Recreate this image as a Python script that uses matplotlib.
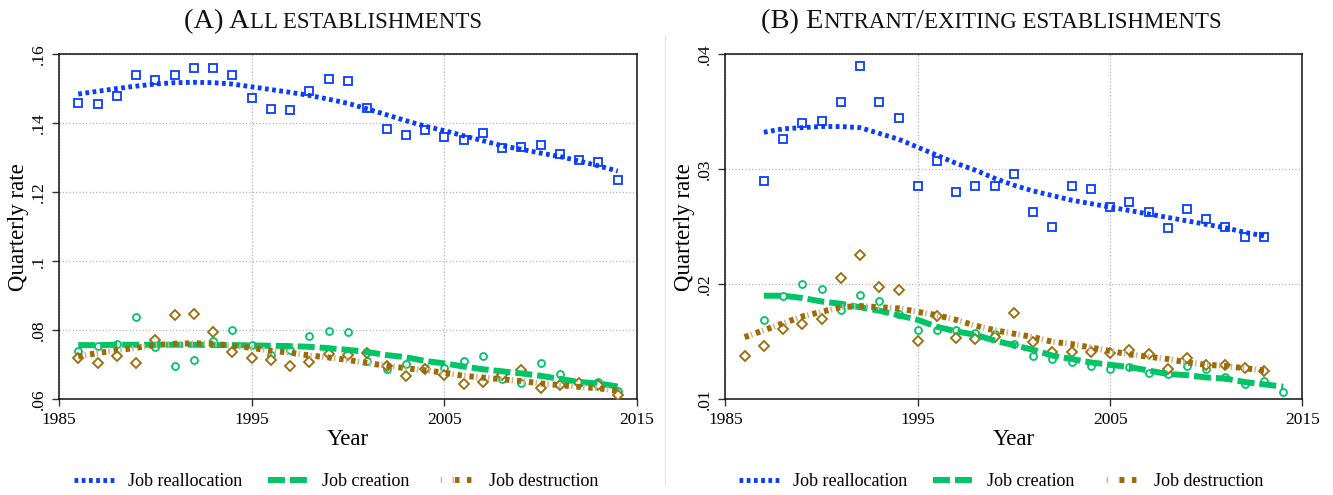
import matplotlib
matplotlib.use('Agg')
import matplotlib.pyplot as plt
from matplotlib.lines import Line2D
from matplotlib.legend_handler import HandlerTuple

plt.rcParams['font.family'] = ['Liberation Serif', 'DejaVu Serif']
plt.rcParams['lines.scale_dashes'] = False

BLUE = '#0a3cff'
GREEN = '#00c466'
BROWN = '#9c6a08'
TAN = '#cdb58a'
GRID = '#b4b4b4'

# (A) all establishments
years_a = list(range(1986, 2015))
realloc_a = [0.1458, 0.1456, 0.1479, 0.1539, 0.1524, 0.1539, 0.1559, 0.1559, 0.1538, 0.1472,
             0.1440, 0.1437, 0.1492, 0.1527, 0.1522, 0.1444, 0.1383, 0.1366, 0.1381, 0.1360,
             0.1352, 0.1371, 0.1327, 0.1331, 0.1336, 0.1311, 0.1293, 0.1288, 0.1236]
realloc_fit_a = [0.1484, 0.1492, 0.1500, 0.1507, 0.1513, 0.1517, 0.1518, 0.1517, 0.1513, 0.1505,
                 0.1497, 0.1489, 0.1480, 0.1469, 0.1457, 0.1441, 0.1424, 0.1407, 0.1391, 0.1378,
                 0.1363, 0.1349, 0.1334, 0.1324, 0.1313, 0.1303, 0.1290, 0.1276, 0.1261]
creation_a = [0.0739, 0.0754, 0.0760, 0.0837, 0.0752, 0.0697, 0.0715, 0.0768, 0.0802, 0.0757,
              0.0728, 0.0743, 0.0784, 0.0797, 0.0795, 0.0711, 0.0687, 0.0701, 0.0691, 0.0691,
              0.0710, 0.0724, 0.0658, 0.0648, 0.0706, 0.0672, 0.0648, 0.0649, 0.0625]
creation_fit_a = [0.0757, 0.0757, 0.0758, 0.0758, 0.0758, 0.0758, 0.0758, 0.0757, 0.0757, 0.0756,
                  0.0755, 0.0754, 0.0752, 0.0748, 0.0743, 0.0737, 0.0728, 0.0722, 0.0711, 0.0704,
                  0.0695, 0.0687, 0.0681, 0.0675, 0.0668, 0.0659, 0.0650, 0.0646, 0.0637]
destruction_a = [0.0721, 0.0704, 0.0724, 0.0704, 0.0773, 0.0844, 0.0846, 0.0795, 0.0738, 0.0720,
                 0.0715, 0.0696, 0.0709, 0.0732, 0.0728, 0.0735, 0.0697, 0.0668, 0.0689, 0.0670,
                 0.0645, 0.0649, 0.0670, 0.0685, 0.0632, 0.0641, 0.0648, 0.0641, 0.0613]
destruction_fit_a = [0.0724, 0.0734, 0.0742, 0.0749, 0.0757, 0.0761, 0.0762, 0.0761, 0.0755, 0.0749,
                     0.0741, 0.0735, 0.0727, 0.0721, 0.0714, 0.0705, 0.0697, 0.0690, 0.0684, 0.0677,
                     0.0668, 0.0663, 0.0658, 0.0653, 0.0646, 0.0641, 0.0636, 0.0632, 0.0625]
yticks_a = [0.06, 0.08, 0.10, 0.12, 0.14, 0.16]
ylabels_a = ['.06', '.08', '.1', '.12', '.14', '.16']

# (B) entrant / exiting establishments
years_realloc_b = list(range(1987, 2014))
realloc_b = [0.0290, 0.0326, 0.0340, 0.0342, 0.0358, 0.0390, 0.0358, 0.0344, 0.0285, 0.0307,
             0.0280, 0.0285, 0.0285, 0.0296, 0.0263, 0.0250, 0.0285, 0.0283, 0.0267, 0.0271,
             0.0263, 0.0249, 0.0265, 0.0257, 0.0250, 0.0241, 0.0241]
realloc_fit_b = [0.0332, 0.0335, 0.0336, 0.0337, 0.0337, 0.0336, 0.0331, 0.0326, 0.0319, 0.0312,
                 0.0305, 0.0299, 0.0292, 0.0286, 0.0281, 0.0277, 0.0273, 0.0270, 0.0267, 0.0264,
                 0.0261, 0.0258, 0.0255, 0.0252, 0.0249, 0.0245, 0.0242]
years_creation_b = list(range(1987, 2015))
creation_b = [0.0169, 0.0190, 0.0200, 0.0196, 0.0178, 0.0191, 0.0185, 0.0174, 0.0160, 0.0160,
              0.0160, 0.0158, 0.0157, 0.0148, 0.0138, 0.0135, 0.0132, 0.0129, 0.0126, 0.0128,
              0.0123, 0.0122, 0.0129, 0.0126, 0.0119, 0.0113, 0.0116, 0.0106]
creation_fit_b = [0.0190, 0.0190, 0.0188, 0.0185, 0.0183, 0.0180, 0.0177, 0.0173, 0.0169, 0.0163,
                  0.0159, 0.0156, 0.0151, 0.0147, 0.0143, 0.0138, 0.0135, 0.0132, 0.0130, 0.0128,
                  0.0125, 0.0122, 0.0121, 0.0119, 0.0118, 0.0115, 0.0113, 0.0111]
years_destruction_b = list(range(1986, 2014))
destruction_b = [0.0138, 0.0146, 0.0161, 0.0165, 0.0170, 0.0205, 0.0225, 0.0198, 0.0195, 0.0151,
                 0.0172, 0.0153, 0.0152, 0.0154, 0.0175, 0.0150, 0.0141, 0.0141, 0.0141, 0.0140,
                 0.0143, 0.0139, 0.0126, 0.0136, 0.0130, 0.0130, 0.0127, 0.0125]
destruction_fit_b = [0.0154, 0.0160, 0.0166, 0.0172, 0.0176, 0.0180, 0.0181, 0.0180, 0.0179, 0.0176,
                     0.0173, 0.0169, 0.0164, 0.0160, 0.0157, 0.0154, 0.0150, 0.0148, 0.0145, 0.0142,
                     0.0139, 0.0137, 0.0135, 0.0132, 0.0130, 0.0129, 0.0127, 0.0125]
yticks_b = [0.01, 0.02, 0.03, 0.04]
ylabels_b = ['.01', '.02', '.03', '.04']

xticks = [1985, 1995, 2005, 2015]

REALLOC_STYLE = dict(color=BLUE, lw=3.5, dashes=(2.7, 2.5))
CREATION_STYLE = dict(color=GREEN, lw=4.3, dashes=(12.2, 3.6))
DESTR_STYLE = dict(color=BROWN, lw=4.3, dashes=(3.2, 5.4))
DESTR_TICK_STYLE = dict(color=TAN, lw=4.3, linestyle=(-4.8, (1.1, 7.5)))


def smallcaps(fig, xc, y, pieces):
    r = fig.canvas.get_renderer()
    texts = [fig.text(0, y, s, fontsize=fs, va='baseline', ha='left', color='#111111')
             for s, fs in pieces]
    widths = [t.get_window_extent(r).width for t in texts]
    x = xc * fig.bbox.width - sum(widths) / 2
    for t, w in zip(texts, widths):
        t.set_x(x / fig.bbox.width)
        x += w


def panel(ax, ylim, yticks, ylabels, data):
    (x_r, r_pts, r_fit), (x_c, c_pts, c_fit), (x_d, d_pts, d_fit) = data
    ax.plot(x_r, r_pts, 's', ms=5.6, mfc='white', mec=BLUE, mew=1.3, zorder=3)
    ax.plot(x_c, c_pts, 'o', ms=5.0, mfc='white', mec=GREEN, mew=1.3, zorder=3)
    ax.plot(x_d, d_pts, 'D', ms=4.8, mfc='white', mec=BROWN, mew=1.3, zorder=3)
    ax.plot(x_r, r_fit, zorder=4, **REALLOC_STYLE)
    ax.plot(x_c, c_fit, zorder=4, **CREATION_STYLE)
    # job destruction: brown dashes with light ticks in between
    ax.plot(x_d, d_fit, zorder=4, **DESTR_TICK_STYLE)
    ax.plot(x_d, d_fit, zorder=4, **DESTR_STYLE)

    ax.set_xlim(1985, 2015)
    ax.set_ylim(*ylim)
    ax.set_xticks(xticks)
    ax.set_xticklabels([str(t) for t in xticks], fontsize=12.5)
    ax.set_yticks(yticks)
    ax.set_yticklabels(ylabels, rotation=90, va='center', fontsize=12.5)
    ax.tick_params(direction='out', length=5, width=1, color='#333333', pad=4)
    ax.grid(True, color=GRID, lw=1.0, linestyle=(0, (0.8, 1.6)))
    ax.set_axisbelow(True)
    for sp in ax.spines.values():
        sp.set_linewidth(1.1)
        sp.set_color('#111111')
    ax.set_xlabel('Year', fontsize=16.5)
    ax.set_ylabel('Quarterly rate', fontsize=16.5)
    ax.xaxis.set_label_coords(0.5, -0.085)
    ax.yaxis.set_label_coords(-0.052, 0.5)

    handles = [Line2D([], [], **REALLOC_STYLE),
               Line2D([], [], **CREATION_STYLE),
               (Line2D([], [], **DESTR_TICK_STYLE), Line2D([], [], **DESTR_STYLE))]
    return handles


fig = plt.figure(figsize=(13.33, 4.95), dpi=100)
ax_a = fig.add_axes([59 / 1333, 1 - 399.3 / 495, 578 / 1333, 345.3 / 495])
ax_b = fig.add_axes([725.4 / 1333, 1 - 399.3 / 495, 577 / 1333, 345.3 / 495])

labels = ['Job reallocation', 'Job creation', 'Job destruction']

h_a = panel(ax_a, (0.06, 0.16), yticks_a, ylabels_a,
            [(years_a, realloc_a, realloc_fit_a),
             (years_a, creation_a, creation_fit_a),
             (years_a, destruction_a, destruction_fit_a)])
h_b = panel(ax_b, (0.01, 0.04), yticks_b, ylabels_b,
            [(years_realloc_b, realloc_b, realloc_fit_b),
             (years_creation_b, creation_b, creation_fit_b),
             (years_destruction_b, destruction_b, destruction_fit_b)])

for ax, h, xc in [(ax_a, h_a, 0.252), (ax_b, h_b, 0.751)]:
    ax.legend(h, labels, loc='center', bbox_to_anchor=(xc, 1 - 482 / 495),
              bbox_transform=fig.transFigure, ncol=3, frameon=False, fontsize=13,
              handlelength=2.3, handletextpad=0.7, columnspacing=1.4,
              handler_map={tuple: HandlerTuple(ndivide=None, pad=0)})

# thin divider between the two panels
fig.add_artist(Line2D([665 / 1333, 665 / 1333], [0.02, 0.93], transform=fig.transFigure,
                      color='#e4e4e4', lw=0.8))

smallcaps(fig, 333 / 1333, 1 - 28 / 495, [('(A) A', 20.5), ('LL ESTABLISHMENTS', 16.5)])
smallcaps(fig, 991 / 1333, 1 - 28 / 495, [('(B) E', 20.5), ('NTRANT', 16.5), ('/', 20.5),
                                          ('EXITING ESTABLISHMENTS', 16.5)])

fig.savefig('out.png', dpi=100)
